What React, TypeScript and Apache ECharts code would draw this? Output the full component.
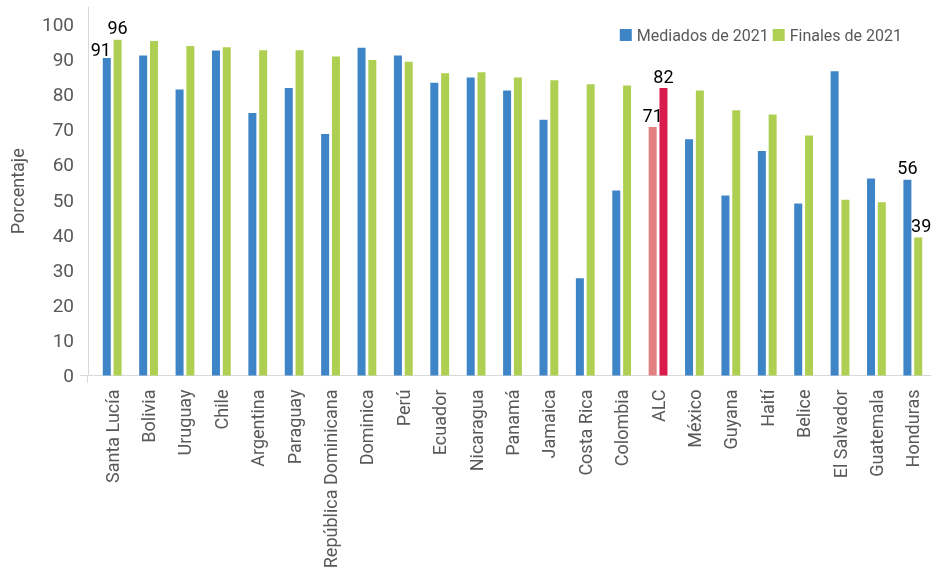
import React, { useEffect, useRef } from "react";
import * as echarts from "echarts";

const categories = [
  "Santa Lucía", "Bolivia", "Uruguay", "Chile", "Argentina", "Paraguay",
  "República Dominicana", "Dominica", "Perú", "Ecuador", "Nicaragua", "Panamá",
  "Jamaica", "Costa Rica", "Colombia", "ALC", "México", "Guyana", "Haití",
  "Belice", "El Salvador", "Guatemala", "Honduras",
];
const mediados = [
  90.5, 91.2, 81.5, 92.6, 74.8, 81.9, 68.8, 93.4, 91.2, 83.4, 84.9, 81.2,
  72.9, 27.7, 52.7, 70.8, 67.3, 51.3, 64.0, 49.0, 86.7, 56.1, 55.8,
];
const finales = [
  95.7, 95.3, 93.9, 93.5, 92.7, 92.7, 90.9, 89.9, 89.4, 86.1, 86.4, 84.9,
  84.1, 83.0, 82.6, 81.9, 81.2, 75.6, 74.4, 68.4, 50.1, 49.4, 39.3,
];
const mediadosLabeled = [0, 15, 22];
const finalesLabeled = [0, 15, 22];
const yTicks = { min: 0, max: 105, interval: 10 };

const BLUE = "#3d85c6";
const GREEN = "#aecf52";
const ALC_PINK = "#e27f80";
const ALC_RED = "#d91b4d";
const TXT = "#595959";
const AXIS = "#d9d9d9";
const FONT = "Roboto, 'Noto Sans', sans-serif";

export default function App() {
  const ref = useRef<HTMLDivElement>(null);
  useEffect(() => {
    if (!ref.current) return;
    const chart = echarts.init(ref.current, null, { renderer: "svg" });
    const alcIdx = categories.indexOf("ALC");
    const mk = (vals: number[], labeled: number[], special: string, offsets: Record<number, number[]>) =>
      vals.map((v, i) => {
        const item: any = { value: v };
        if (i === alcIdx) item.itemStyle = { color: special };
        if (labeled.includes(i)) {
          item.label = {
            show: true,
            position: "top",
            distance: 3,
            formatter: String(Math.round(v)),
            color: "#000",
            fontSize: 18,
            fontFamily: FONT,
            offset: offsets[i] || [0, 0],
          };
        }
        return item;
      });
    chart.setOption({
      animation: false,
      textStyle: { fontFamily: FONT },
      grid: { left: 93, right: 2, top: 7, bottom: 201.5, containLabel: false },
      legend: {
        top: 22,
        right: 26,
        itemWidth: 12,
        itemHeight: 12,
        itemGap: 4,
        icon: "rect",
        textStyle: { color: TXT, fontSize: 16, fontFamily: FONT },
        data: ["Mediados de 2021", "Finales de 2021"],
      },
      graphic: [
        {
          type: "line",
          silent: true,
          shape: { x1: 80, y1: 375.5, x2: 93, y2: 375.5 },
          style: { stroke: AXIS, lineWidth: 1 },
        },
        {
          type: "line",
          silent: true,
          shape: { x1: 87.5, y1: 375.5, x2: 87.5, y2: 383 },
          style: { stroke: AXIS, lineWidth: 1 },
        },
      ],
      xAxis: {
        type: "category",
        data: categories,
        axisLine: { lineStyle: { color: AXIS, width: 1 } },
        axisTick: { show: false },
        axisLabel: {
          rotate: 90,
          interval: 0,
          margin: 14,
          color: TXT,
          fontSize: 18,
          fontFamily: FONT,
        },
      },
      yAxis: {
        type: "value",
        min: yTicks.min,
        max: yTicks.max,
        interval: yTicks.interval,
        offset: 6,
        splitLine: { show: false },
        axisLine: { show: true, lineStyle: { color: AXIS, width: 1 } },
        axisTick: { show: false },
        axisLabel: {
          showMaxLabel: false,
          margin: 14,
          color: TXT,
          fontSize: 19,
          fontFamily: FONT,
        },
        name: "Porcentaje",
        nameLocation: "middle",
        nameGap: 62,
        nameTextStyle: { color: TXT, fontSize: 18, fontFamily: FONT },
      },
      series: [
        {
          name: "Mediados de 2021",
          type: "bar",
          barWidth: 8,
          barGap: "35%",
          itemStyle: { color: BLUE },
          data: mk(mediados, mediadosLabeled, ALC_PINK, { 0: [-6, 4] }),
        },
        {
          name: "Finales de 2021",
          type: "bar",
          barWidth: 8,
          itemStyle: { color: GREEN },
          data: mk(finales, finalesLabeled, ALC_RED, { 22: [3, 0] }),
        },
      ],
    });
    return () => chart.dispose();
  }, []);
  return (
    <div
      ref={ref}
      style={{ position: "fixed", left: 0, top: 0, width: 933, height: 577 }}
    />
  );
}
